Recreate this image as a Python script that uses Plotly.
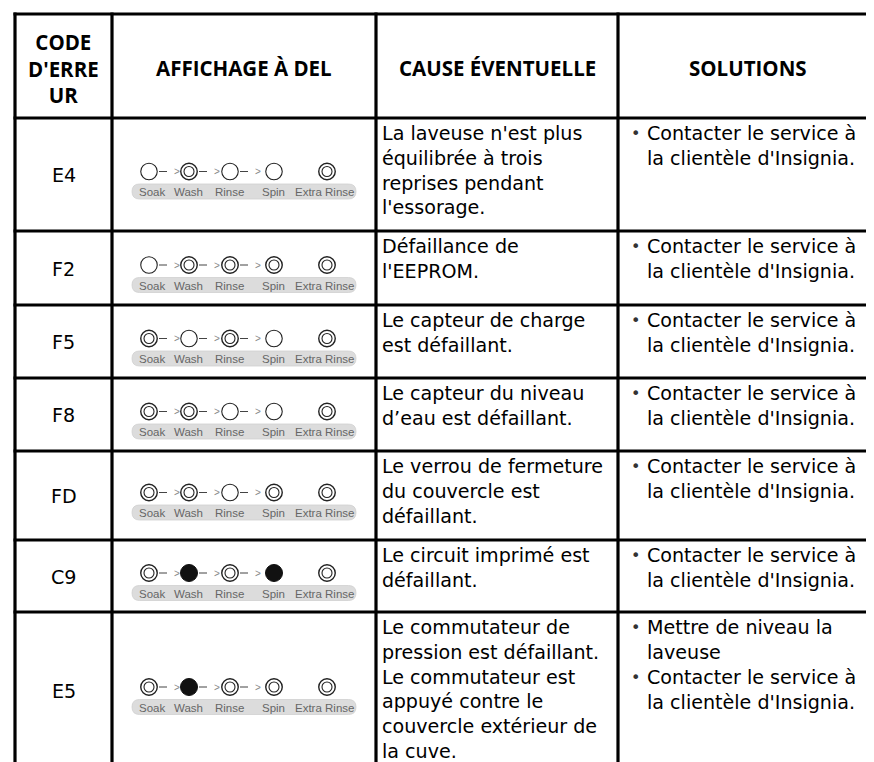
import plotly.graph_objects as go

W, H = 874, 762

HEADERS = ["CODE<br>D'ERRE<br>UR", "AFFICHAGE À DEL", "CAUSE ÉVENTUELLE", "SOLUTIONS"]
CODES = ["E4", "F2", "F5", "F8", "FD", "C9", "E5"]
LED_NAMES = ["Soak", "Wash", "Rinse", "Spin", "Extra Rinse"]
# 0 = off (single ring), 1 = blinking (double ring), 2 = on (filled)
LED_STATES = [
    [0, 1, 0, 0, 1],
    [0, 1, 1, 1, 1],
    [1, 0, 1, 0, 1],
    [1, 1, 0, 0, 1],
    [1, 1, 0, 1, 1],
    [1, 2, 1, 2, 1],
    [1, 2, 1, 1, 1],
]
CAUSES = [
    "La laveuse n'est plus<br>équilibrée à trois<br>reprises pendant<br>l'essorage.",
    "Défaillance de<br>l'EEPROM.",
    "Le capteur de charge<br>est défaillant.",
    "Le capteur du niveau<br>d’eau est défaillant.",
    "Le verrou de fermeture<br>du couvercle est<br>défaillant.",
    "Le circuit imprimé est<br>défaillant.",
    "Le commutateur de<br>pression est défaillant.<br>Le commutateur est<br>"
    "appuyé contre le<br>couvercle extérieur de<br>la cuve.",
]
CONTACT = "Contacter le service à<br>la clientèle d'Insignia."
SOLUTIONS = [
    [CONTACT],
    [CONTACT],
    [CONTACT],
    [CONTACT],
    [CONTACT],
    [CONTACT],
    ["Mettre de niveau la<br>laveuse", CONTACT],
]

# table geometry, in pixels (axes map 1:1 onto the page)
COL_X = [7, 104, 368, 610, 869]
ROW_Y = [6, 110, 223, 297, 370, 443, 532, 604, 900]
LED_DX = [-95, -55, -14, 30, 83]
LABEL_DX = [-92, -56, -15, 29, 80]

BODY_FONT = "DejaVu Sans"
BODY_SIZE = 19.1
LINE_H = BODY_SIZE * 1.3
HEAD_FONT = "Open Sans"

shapes = []
annotations = []


def text(x, y, s, size=BODY_SIZE, anchor="left", yanchor="middle", color="black",
         family=BODY_FONT):
    annotations.append(dict(x=x, y=y, text=s, showarrow=False, xanchor=anchor,
                            yanchor=yanchor, align="left" if anchor == "left" else "center",
                            font=dict(family=family, size=size, color=color)))


# grid lines
for y in ROW_Y[:-1]:
    shapes.append(dict(type="line", x0=COL_X[0] - 1.5, x1=COL_X[-1] + 1.5, y0=y, y1=y,
                       line=dict(color="black", width=3.2)))
for x in COL_X:
    shapes.append(dict(type="line", x0=x, x1=x, y0=ROW_Y[0] - 1.5, y1=H + 10,
                       line=dict(color="black", width=3.2)))

# header
for i, s in enumerate(HEADERS):
    text((COL_X[i] + COL_X[i + 1]) / 2, (ROW_Y[0] + ROW_Y[1]) / 2 + 2, "<b>" + s + "</b>",
         size=20.5, anchor="center", family=HEAD_FONT)

led_x = {0: [], 1: [], 2: []}
led_y = {0: [], 1: [], 2: []}
cx = (COL_X[1] + COL_X[2]) / 2

for r, code in enumerate(CODES):
    top, bot = ROW_Y[r + 1], ROW_Y[r + 2]
    cy = (top + bot) / 2 if r < len(CODES) - 1 else 682
    text((COL_X[0] + COL_X[1]) / 2, cy + 1, code, anchor="center")
    text(COL_X[2] + 4, top + 2, CAUSES[r], yanchor="top")
    sy = top + 2
    for sol in SOLUTIONS[r]:
        text(COL_X[3] + 17, sy + 2, "•", size=16, anchor="center", yanchor="top", color="#333")
        text(COL_X[3] + 27, sy, sol, yanchor="top")
        sy += LINE_H * (sol.count("<br>") + 1)

    # LED panel
    ly = cy - 3
    by = cy + 17
    x0, x1, h = cx - 112, cx + 112, 15
    rr = h / 2
    y0, y1 = by - rr, by + rr
    shapes.append(dict(
        type="path",
        path=(f"M {x0 + rr},{y0} L {x1 - rr},{y0} Q {x1},{y0} {x1},{by} "
              f"Q {x1},{y1} {x1 - rr},{y1} L {x0 + rr},{y1} Q {x0},{y1} {x0},{by} "
              f"Q {x0},{y0} {x0 + rr},{y0} Z"),
        fillcolor="#dcdcdc", line=dict(color="#cfcfcf", width=0.8), layer="below"))
    for k, name in enumerate(LED_NAMES):
        text(cx + LABEL_DX[k], by + 0.5, name, size=11.5, anchor="center",
             color="#666", family="Liberation Sans")
        state = LED_STATES[r][k]
        led_x[state].append(cx + LED_DX[k])
        led_y[state].append(ly)
        if k < 3:
            lx = cx + LED_DX[k]
            shapes.append(dict(type="line", x0=lx + 10, x1=lx + 18, y0=ly, y1=ly,
                               line=dict(color="#444", width=1)))
            text(lx + 28, ly, ">", size=10, anchor="center", color="#888",
                 family="Liberation Sans")

fig = go.Figure()
fig.add_trace(go.Scatter(x=led_x[0], y=led_y[0], mode="markers", hoverinfo="skip",
                         marker=dict(symbol="circle", size=16.5, color="white",
                                     line=dict(color="#222", width=1.1))))
fig.add_trace(go.Scatter(x=led_x[1], y=led_y[1], mode="markers", hoverinfo="skip",
                         marker=dict(symbol="circle", size=16.5, color="white",
                                     line=dict(color="#222", width=1.4))))
fig.add_trace(go.Scatter(x=led_x[1], y=led_y[1], mode="markers", hoverinfo="skip",
                         marker=dict(symbol="circle", size=10, color="white",
                                     line=dict(color="#222", width=1.1))))
fig.add_trace(go.Scatter(x=led_x[2], y=led_y[2], mode="markers", hoverinfo="skip",
                         marker=dict(symbol="circle", size=17, color="#111",
                                     line=dict(color="#111", width=1))))

fig.update_layout(
    width=W, height=H,
    margin=dict(l=0, r=0, t=0, b=0),
    paper_bgcolor="white", plot_bgcolor="white",
    showlegend=False,
    shapes=shapes, annotations=annotations,
    xaxis=dict(range=[0, W], visible=False, fixedrange=True),
    yaxis=dict(range=[H, 0], visible=False, fixedrange=True),
)

fig.write_html("out.html")
